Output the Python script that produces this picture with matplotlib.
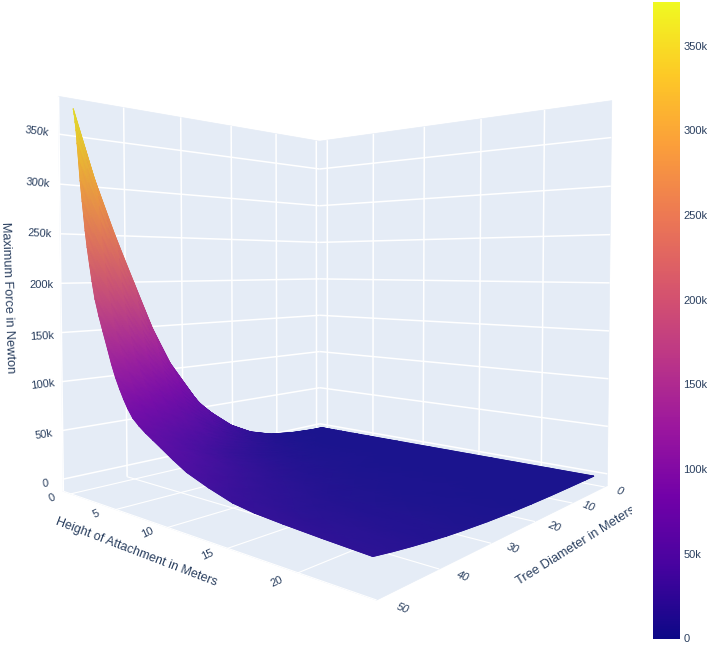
import matplotlib
matplotlib.use("Agg")
import matplotlib.pyplot as plt
import numpy as np
from matplotlib.cm import ScalarMappable
from matplotlib.colors import LinearSegmentedColormap, Normalize, to_rgb
from matplotlib.transforms import Bbox
from mpl_toolkits.mplot3d import proj3d
from mpl_toolkits.mplot3d.art3d import Poly3DCollection

plt.rcParams["font.family"] = ["Liberation Sans", "DejaVu Sans"]

W, H = 708, 645
TEXT = "#2a3f5f"
PANE = "#E5ECF6"

plasma = ["#0d0887", "#46039f", "#7201a8", "#9c179e", "#bd3786",
          "#d8576b", "#ed7953", "#fb9f3a", "#fdca26", "#f0f921"]

diameters = [2.5, 5, 10, 15, 20, 25, 30, 35, 38, 41, 44, 47, 50]
heights = [0.8, 0.9, 1, 1.1, 1.2, 1.35, 1.5, 1.7, 1.85, 2, 2.2, 2.45, 2.7,
           3, 3.4, 3.8, 4.3, 4.7, 5.1, 5.5, 5.9, 6.3, 6.8, 7.4, 8, 8.7, 9.4,
           10.5, 11.7, 13.5, 15.4, 17, 19, 21.5, 24.5]
# thousand newton, one row per height
force_kn = [
    [2, 2.2, 4.2, 8.3, 17.4, 34.2, 63.5, 111.0, 150.5, 199.7, 249.7, 305.0, 372.0],
    [2, 2.2, 4.1, 8.2, 17.0, 33.4, 62.2, 108.9, 147.4, 195.5, 244.4, 301.3, 367.0],
    [2, 2.2, 4.1, 8.1, 16.7, 32.7, 60.9, 106.6, 144.2, 191.2, 239.0, 294.7, 359.0],
    [2, 2.2, 4.0, 7.9, 16.4, 32.0, 59.6, 104.2, 140.9, 187.0, 233.7, 288.2, 351.0],
    [2, 2.2, 3.9, 7.8, 16.4, 32.0, 59.4, 102.6, 137.2, 180.1, 225.1, 277.5, 338.0],
    [2, 2.2, 3.8, 7.9, 16.6, 32.3, 58.2, 99.3, 131.3, 170.5, 213.2, 262.8, 320.0],
    [2, 2.2, 3.7, 7.9, 16.6, 32.2, 57.3, 95.5, 124.8, 160.5, 200.5, 247.2, 301.0],
    [2, 2.2, 3.6, 7.9, 16.8, 32.4, 56.4, 91.0, 117.8, 149.9, 187.3, 230.8, 281.0],
    [2, 2.2, 3.5, 7.6, 16.0, 30.9, 53.7, 86.5, 112.0, 142.5, 178.0, 219.3, 267.0],
    [2, 2.2, 3.5, 7.3, 15.3, 29.3, 50.8, 81.8, 105.8, 134.5, 168.0, 207.0, 252.0],
    [2, 2.1, 3.4, 6.9, 14.4, 27.5, 47.6, 76.6, 99.1, 126.0, 157.4, 193.9, 236.0],
    [2, 2.1, 3.3, 6.6, 13.5, 25.7, 44.3, 71.2, 92.1, 117.0, 146.1, 179.9, 219.0],
    [2, 2.1, 3.2, 6.2, 12.7, 23.9, 41.2, 66.1, 85.4, 108.5, 135.5, 166.8, 203.0],
    [2, 2.1, 3.1, 5.9, 11.8, 22.1, 37.9, 60.7, 78.4, 99.5, 124.2, 152.9, 186.0],
    [2, 2.1, 3.0, 5.5, 10.9, 20.3, 34.8, 55.6, 71.7, 91.0, 113.6, 139.8, 170.0],
    [2, 2.1, 2.9, 5.2, 10.2, 18.8, 32.0, 51.1, 65.9, 83.6, 104.3, 128.3, 156.0],
    [2, 2.1, 2.8, 4.9, 9.3, 16.9, 28.7, 45.7, 58.9, 74.6, 93.0, 114.3, 139.0],
    [2, 2.1, 2.7, 4.6, 8.5, 15.4, 26.0, 41.2, 53.0, 67.2, 83.7, 102.9, 125.0],
    [2, 2.1, 2.6, 4.3, 7.9, 14.1, 23.6, 37.4, 48.1, 60.8, 75.7, 93.0, 113.0],
    [2, 2.1, 2.6, 4.1, 7.4, 13.0, 21.7, 34.2, 43.9, 55.5, 69.1, 84.8, 103.0],
    [2, 2.1, 2.5, 3.9, 6.9, 12.0, 19.9, 31.3, 40.2, 50.8, 63.1, 77.4, 94.0],
    [2, 2.1, 2.5, 3.8, 6.5, 11.2, 18.4, 28.8, 36.9, 46.5, 57.8, 70.9, 86.0],
    [2, 2.0, 2.4, 3.6, 6.0, 10.3, 16.8, 26.2, 33.5, 42.3, 52.5, 64.3, 78.0],
    [2, 2.0, 2.4, 3.5, 5.7, 9.6, 15.7, 24.3, 31.1, 39.1, 48.5, 59.4, 72.0],
    [2, 2.0, 2.4, 3.4, 5.4, 9.1, 14.7, 22.7, 29.0, 36.5, 45.2, 55.3, 67.0],
    [2, 2.0, 2.3, 3.3, 5.2, 8.5, 13.7, 21.1, 26.9, 33.8, 41.8, 51.2, 62.0],
    [2, 2.0, 2.3, 3.2, 4.9, 8.0, 12.7, 19.5, 24.8, 31.2, 38.5, 47.1, 57.0],
    [2, 2.0, 2.3, 3.0, 4.5, 7.1, 11.2, 17.0, 21.5, 26.9, 33.2, 40.5, 49.0],
    [2, 2.0, 2.2, 2.8, 4.1, 6.3, 9.6, 14.4, 18.2, 22.7, 27.9, 34.0, 41.0],
    [2, 2.0, 2.2, 2.7, 3.6, 5.4, 8.0, 11.9, 14.9, 18.4, 22.6, 27.4, 33.0],
    [2, 2.0, 2.1, 2.5, 3.3, 4.6, 6.7, 9.7, 12.0, 14.7, 17.9, 21.7, 26.0],
    [2, 2.0, 2.1, 2.4, 3.1, 4.3, 6.1, 8.7, 10.7, 13.1, 15.9, 19.2, 23.0],
    [2, 2.0, 2.1, 2.4, 3.0, 4.1, 5.7, 8.1, 9.9, 12.1, 14.6, 17.6, 21.0],
    [2, 2.0, 2.1, 2.4, 2.9, 3.9, 5.3, 7.4, 9.1, 11.0, 13.3, 15.9, 19.0],
    [2, 2.0, 2.1, 2.3, 2.8, 3.6, 4.9, 6.8, 8.2, 10.0, 12.0, 14.3, 17.0],
]

diameter_ticks = [0, 10, 20, 30, 40, 50]
height_ticks = [0, 5, 10, 15, 20]
force_ticks = [0, 50000, 100000, 150000, 200000, 250000, 300000, 350000]
force_labels = ["0", "50k", "100k", "150k", "200k", "250k", "300k", "350k"]
force_max = 375800

d_lim = (-0.8548, 50.0332)
h_lim = (-0.8928, 24.7152)
f_lim = (-12530, 387731)

fig = plt.figure(figsize=(W / 100, H / 100), dpi=100)
# 3d axes placed so the box corners land where they do in the chart
size = 653.83
ax = fig.add_axes([2.87 / W, 14.09 / H, size / W, size / H], projection="3d", computed_zorder=False)
ax.set_xlim(*d_lim, view_margin=0)
ax.set_ylim(*h_lim, view_margin=0)
ax.set_zlim(*f_lim, view_margin=0)
ax.view_init(elev=2.0302, azim=41.2642, roll=0)
ax.set_proj_type("persp", focal_length=0.2289)
ax.set_box_aspect((0.9674, 1.0219, 1))
ax.set_axis_off()
ax.patch.set_alpha(0)

d0, d1 = d_lim
h0, h1 = h_lim
f0, f1 = f_lim
panes = [
    [(d0, h0, f0), (d1, h0, f0), (d1, h1, f0), (d0, h1, f0)],
    [(d0, h0, f0), (d1, h0, f0), (d1, h0, f1), (d0, h0, f1)],
    [(d0, h0, f0), (d0, h1, f0), (d0, h1, f1), (d0, h0, f1)],
]
ax.add_collection3d(Poly3DCollection(panes, facecolors=PANE, edgecolors=PANE, linewidths=0.5, zorder=0))

grid = dict(color="white", lw=1.1, zorder=1, solid_capstyle="butt")
floor_grid = dict(color="white", lw=0.8, zorder=1, solid_capstyle="butt")
for d in diameter_ticks:
    ax.plot([d, d], [h0, h1], [f0, f0], **floor_grid)
    ax.plot([d, d], [h0, h0], [f0, f1], **grid)
for h in height_ticks:
    ax.plot([d0, d1], [h, h], [f0, f0], **floor_grid)
    ax.plot([d0, d0], [h, h], [f0, f1], **grid)
for f in force_ticks:
    ax.plot([d0, d1], [h0, h0], [f, f], **grid)
    ax.plot([d0, d0], [h0, h1], [f, f], **grid)

cmap = LinearSegmentedColormap.from_list("plasma_plotly", plasma)
norm = Normalize(0, force_max)
# plotly's lighting: flat parts a bit paler, steep parts a bit darker
lit = [np.array(to_rgb(c)) * (0.95 - 0.08 * i / 9) + 0.05 for i, c in enumerate(plasma)]
surface_cmap = LinearSegmentedColormap.from_list("plasma_lit", lit)

D, Ht = np.meshgrid(diameters, heights)
F = np.array(force_kn) * 1000
# flat facets underneath give the surface an antialiased outline
cell = (F[:-1, :-1] + F[1:, :-1] + F[:-1, 1:] + F[1:, 1:]) / 4
colors = np.zeros(F.shape + (4,))
colors[:-1, :-1] = surface_cmap(norm(cell))
ax.plot_surface(D, Ht, F, facecolors=colors, rstride=1, cstride=1, shade=False,
                linewidth=0.5, antialiased=True, zorder=2)

# mplot3d has no smooth shading, so the same mesh goes again through a gouraud
# pcolormesh on an overlay, at the positions the 3d axes projects it to
fig.canvas.draw()
u, v, _ = proj3d.proj_transform(D.ravel(), Ht.ravel(), F.ravel(), ax.get_proj())
screen = ax.transData.transform(np.column_stack([u, v]))
overlay = fig.add_axes([0, 0, 1, 1], frameon=False)
overlay.set_xlim(0, W)
overlay.set_ylim(0, H)
overlay.set_axis_off()
overlay.pcolormesh(screen[:, 0].reshape(D.shape), screen[:, 1].reshape(D.shape), F,
                   shading="gouraud", cmap=surface_cmap, norm=norm)


def label(x, y, s, rot, size=8.0, **kw):
    return fig.text(x / W, 1 - y / H, s, rotation=rot, color=TEXT, fontsize=size,
                    ha=kw.pop("ha", "center"), va=kw.pop("va", "center"),
                    rotation_mode="anchor", **kw)


force_label_pos = [(45, 484, 6), (44, 435, 9), (43, 385, 7), (42, 336, 3),
                   (41, 285, 0), (40, 234, -3), (38, 183, -5), (37, 131, -7)]
for s, (x, y, r) in zip(force_labels, force_label_pos):
    label(x, y, s, r)

height_label_pos = [(52, 498), (96, 514), (147, 533), (207, 555), (277, 582)]
for h, (x, y) in zip(height_ticks, height_label_pos):
    label(x, y, str(h), 25)

diameter_label_pos = [(620, 491), (589, 507), (554, 527), (513, 549), (463, 577), (403, 609)]
for d, (x, y) in zip(diameter_ticks, diameter_label_pos):
    label(x, y, str(d), -22, style="italic")

label(136, 552, "Height of Attachment in Meters", -21, size=9)
label(8, 298, "Maximum Force in Newton", -88, size=9.2)
t = label(517, 582, "Tree Diameter in Meters", 32, size=9.3, ha="left")
t.set_clip_on(True)
t.set_clip_box(Bbox([[0, 0], [632, H]]))

cax = fig.add_axes([653 / W, 1 - 638.5 / H, 27 / W, 636.5 / H])
sm = ScalarMappable(norm=norm, cmap=cmap)
cb = fig.colorbar(sm, cax=cax)
cb.outline.set_visible(False)
cb.set_ticks(force_ticks, labels=force_labels)
cax.tick_params(length=0, pad=2.5, labelsize=8, labelcolor=TEXT)

fig.savefig("out.png", dpi=100)
